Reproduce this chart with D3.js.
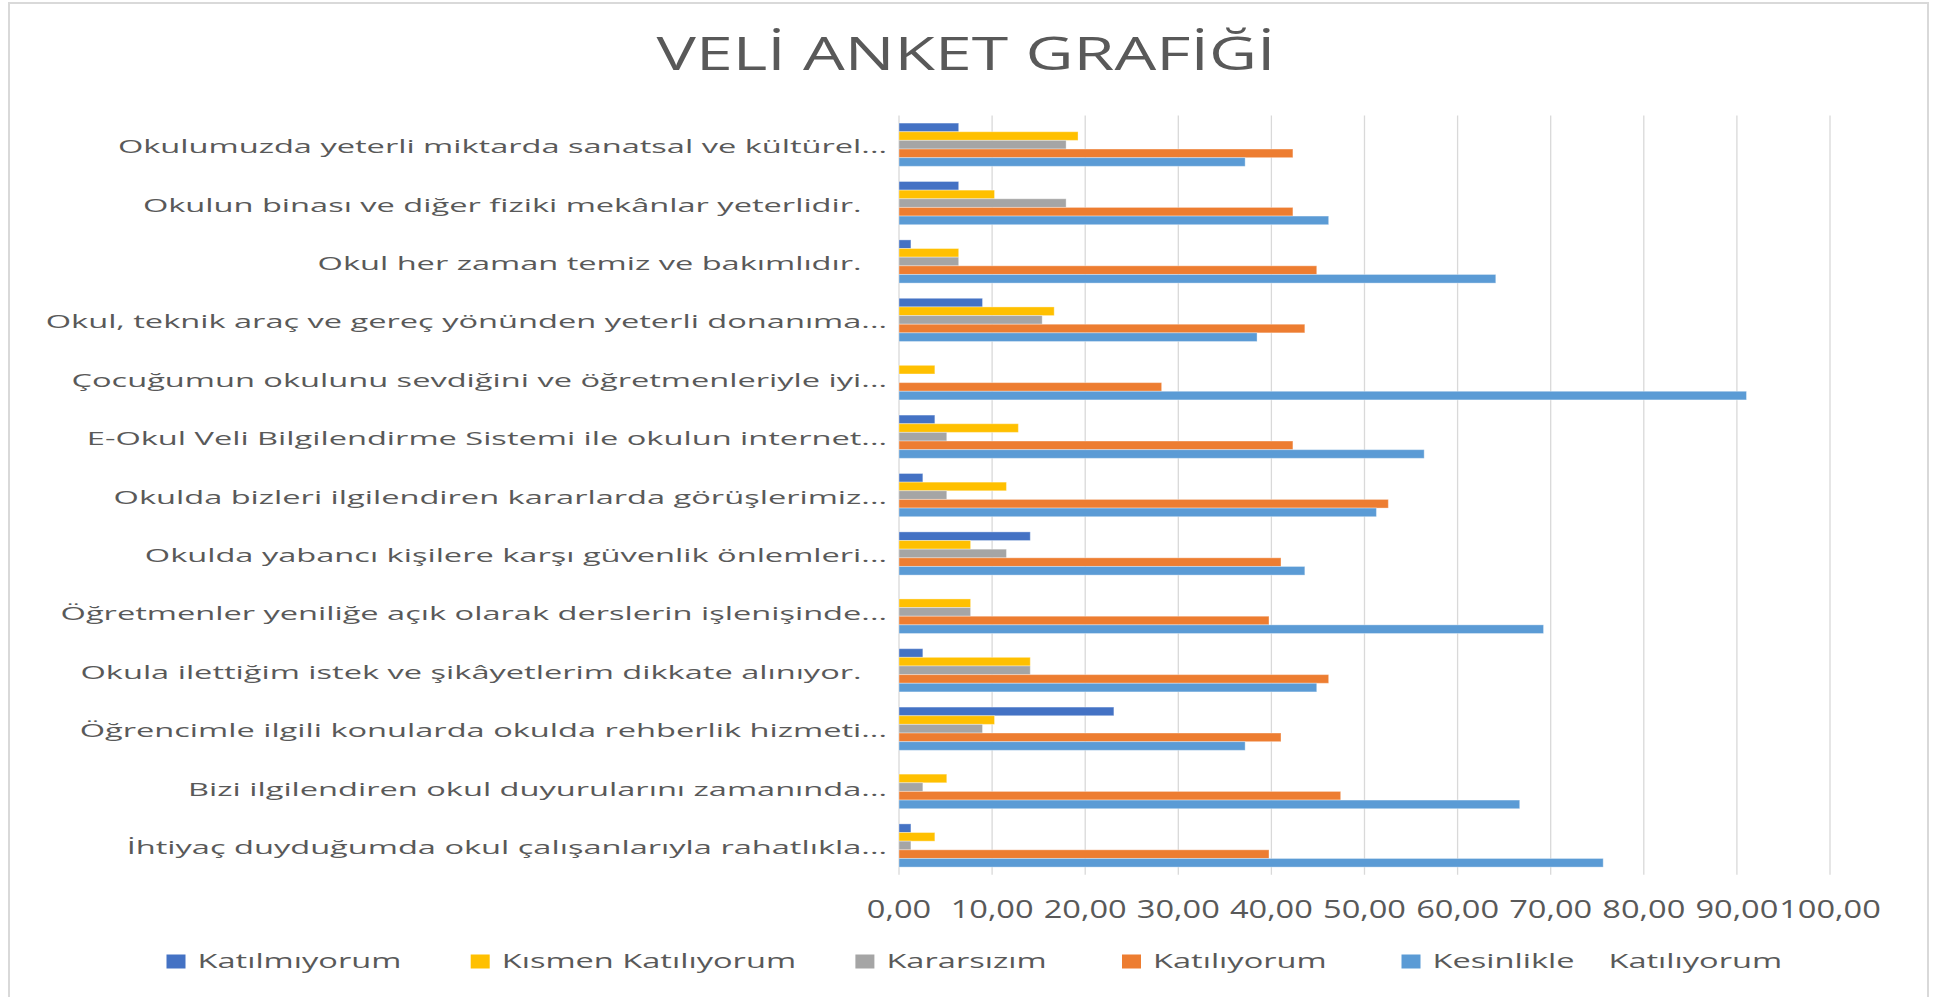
<!DOCTYPE html>
<html>
<head>
<meta charset="utf-8">
<script src="https://cdn.jsdelivr.net/npm/d3@7"></script>
<style>
  body { margin: 0; background: #fff; }
  svg { display: block; }
  text { font-family: "Open Sans", sans-serif; fill: #595959; white-space: pre; }
</style>
</head>
<body>
<div id="chart"></div>
<script>
// categories top to bottom, as in the picture
const categories = [
  "Okulumuzda yeterli miktarda sanatsal ve kültürel...",
  "Okulun binası ve diğer fiziki mekânlar yeterlidir.   ",
  "Okul her zaman temiz ve bakımlıdır.   ",
  "Okul, teknik araç ve gereç yönünden yeterli donanıma...",
  "Çocuğumun okulunu sevdiğini ve öğretmenleriyle iyi...",
  "E-Okul Veli Bilgilendirme Sistemi ile okulun internet...",
  "Okulda bizleri ilgilendiren kararlarda görüşlerimiz...",
  "Okulda yabancı kişilere karşı güvenlik önlemleri...",
  "Öğretmenler yeniliğe açık olarak derslerin işlenişinde...",
  "Okula ilettiğim istek ve şikâyetlerim dikkate alınıyor.   ",
  "Öğrencimle ilgili konularda okulda rehberlik hizmeti...",
  "Bizi ilgilendiren okul duyurularını zamanında...",
  "İhtiyaç duyduğumda okul çalışanlarıyla rahatlıkla..."
];

const seriesNames = ["Katılmıyorum", "Kısmen Katılıyorum", "Kararsızım", "Katılıyorum", "Kesinlikle    Katılıyorum"];
const seriesColors = ["#4472C4", "#FFC000", "#A5A5A5", "#ED7D31", "#5B9BD5"];

const katilmiyorum = [6.41, 6.41, 1.28, 8.97, 0, 3.85, 2.56, 14.10, 0, 2.56, 23.08, 0, 1.28];
const kismen       = [19.23, 10.26, 6.41, 16.67, 3.85, 12.82, 11.54, 7.69, 7.69, 14.10, 10.26, 5.13, 3.85];
const kararsizim   = [17.95, 17.95, 6.41, 15.38, 0, 5.13, 5.13, 11.54, 7.69, 14.10, 8.97, 2.56, 1.28];
const katiliyorum  = [42.31, 42.31, 44.87, 43.59, 28.21, 42.31, 52.56, 41.03, 39.74, 46.15, 41.03, 47.44, 39.74];
const kesinlikle   = [37.18, 46.15, 64.10, 38.46, 91.03, 56.41, 51.28, 43.59, 69.23, 44.87, 37.18, 66.67, 75.64];

const seriesValues = [katilmiyorum, kismen, kararsizim, katiliyorum, kesinlikle];

const W = 1935, H = 997;
const plot = { left: 899, right: 1830, top: 115.5, bottom: 874.7 };

const svg = d3.select("#chart").append("svg")
  .attr("width", W)
  .attr("height", H);

// chart area border
svg.append("rect")
  .attr("x", 9).attr("y", 3)
  .attr("width", 1919).attr("height", 1020)
  .attr("fill", "#fff")
  .attr("stroke", "#d9d9d9")
  .attr("stroke-width", 2);

// the reference text is stretched horizontally, so measure and scale
function naturalWidth(str, size) {
  let t = svg.append("text").style("font-size", size + "px").text(str);
  let w = t.node().getComputedTextLength();
  t.remove();
  return w;
}

function stretched(parent, str, x, y, size, sx, anchor) {
  return parent.append("text")
    .attr("transform", `translate(${x},${y}) scale(${sx},1)`)
    .attr("text-anchor", anchor)
    .style("font-size", size + "px")
    .text(str);
}

let x = d3.scaleLinear()
  .domain([0, 100])
  .range([plot.left, plot.right]);

let y = d3.scaleBand()
  .domain(categories)
  .range([plot.top, plot.bottom])
  .paddingInner(0.26)
  .paddingOuter(0.13);

let ySub = d3.scaleBand()
  .domain(seriesNames)
  .range([0, y.bandwidth()]);

// title
const titleSize = 45;
const titleText = "VELİ ANKET GRAFİĞİ";
stretched(svg, titleText, 966, 70, titleSize, 619 / naturalWidth(titleText, titleSize), "middle");

// gridlines
svg.append("g")
  .selectAll("line")
  .data(x.ticks(10))
  .enter()
  .append("line")
  .attr("x1", d => x(d)).attr("x2", d => x(d))
  .attr("y1", plot.top).attr("y2", plot.bottom)
  .attr("stroke", "#d9d9d9")
  .attr("stroke-width", 1.3);

// x tick labels
const locale = d3.formatLocale({ decimal: ",", thousands: ".", grouping: [3], currency: ["", ""] });
const numFormat = locale.format(".2f");
const tickSize = 25;
const tickSx = 83 / naturalWidth("10,00", tickSize);
let ticksG = svg.append("g");
x.ticks(10).forEach(d => {
  stretched(ticksG, numFormat(d), x(d), 918, tickSize, tickSx, "middle");
});

// category labels
const labelSize = 18.6;
const labelSx = 769 / naturalWidth(categories[0], labelSize);
let labelsG = svg.append("g");
categories.forEach(c => {
  stretched(labelsG, c, 887, y(c) + y.bandwidth() / 2 + 8.5, labelSize, labelSx, "end");
});

// bars
let groups = svg.selectAll(".cat")
  .data(categories)
  .enter()
  .append("g")
  .attr("class", "cat")
  .attr("transform", d => `translate(0,${y(d)})`);

groups.selectAll("rect")
  .data((c, i) => seriesNames.map((s, j) => ({ s: s, v: seriesValues[j][i], color: seriesColors[j] })))
  .enter()
  .append("rect")
  .attr("x", x(0))
  .attr("y", d => ySub(d.s))
  .attr("width", d => x(d.v) - x(0))
  .attr("height", ySub.bandwidth())
  .attr("fill", d => d.color)
  .attr("stroke", "rgba(255,255,255,0.35)")
  .attr("stroke-width", d => d.v > 0 ? 1 : 0);

// legend
const legendSize = 20;
const legendSx = 204 / naturalWidth("Katılmıyorum", legendSize);
const legendX = [166.5, 470.7, 855.4, 1122, 1401.5];
let legend = svg.append("g");
seriesNames.forEach((s, i) => {
  legend.append("rect")
    .attr("x", legendX[i]).attr("y", 954.5)
    .attr("width", 19).attr("height", 14)
    .attr("fill", seriesColors[i]);
  stretched(legend, s, legendX[i] + 31, 968.3, legendSize, legendSx, "start");
});
</script>
</body>
</html>
